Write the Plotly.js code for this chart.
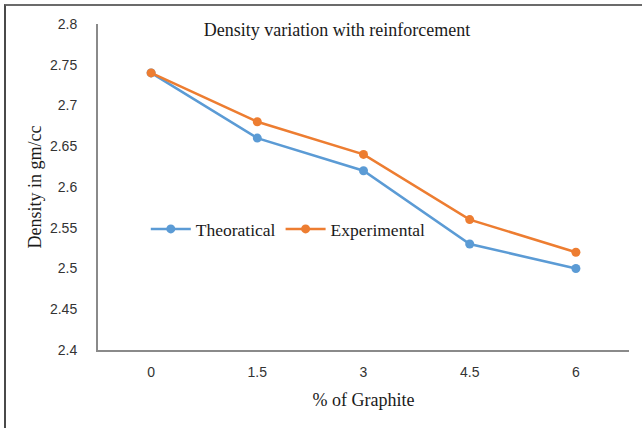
<!DOCTYPE html>
<html><head><meta charset="utf-8">
<script src="https://cdn.plot.ly/plotly-3.0.1.min.js"></script>
<style>
html,body{margin:0;padding:0;background:#fff;}
#wrap{position:relative;width:642px;height:428px;}
#chart{width:642px;height:428px;}
#frame{position:absolute;left:4px;top:4px;width:700px;height:500px;border-top:2px solid #6b6b6b;border-left:2px solid #4a4a4a;pointer-events:none;}
</style></head>
<body>
<div id="wrap"><div id="chart"></div><div id="frame"></div></div>
<script>
const categories = ["0", "1.5", "3", "4.5", "6"];
const theoretical = [2.74, 2.66, 2.62, 2.53, 2.50];
const experimental = [2.74, 2.68, 2.64, 2.56, 2.52];
const yTicks = [2.4, 2.45, 2.5, 2.55, 2.6, 2.65, 2.7, 2.75, 2.8];
const yTickLabels = ["2.4", "2.45", "2.5", "2.55", "2.6", "2.65", "2.7", "2.75", "2.8"];

const serif = "Liberation Serif, Times New Roman, serif";
const sans = "Liberation Sans, Arial, sans-serif";

const traces = [
  {x: categories, y: theoretical, name: "Theoratical", type: "scatter", mode: "lines+markers",
   line: {color: "#5B9BD5", width: 2.5}, marker: {color: "#5B9BD5", size: 9}},
  {x: categories, y: experimental, name: "Experimental", type: "scatter", mode: "lines+markers",
   line: {color: "#ED7D31", width: 2.5}, marker: {color: "#ED7D31", size: 9}}
];

const layout = {
  width: 642, height: 428,
  margin: {l: 98, r: 13, t: 24, b: 78},
  paper_bgcolor: "#fff", plot_bgcolor: "#fff",
  showlegend: true,
  title: {text: "Density variation with reinforcement", x: 0.525, xanchor: "center", y: 0.93, yanchor: "middle",
    font: {family: serif, size: 18, color: "#1a1a1a"}},
  xaxis: {type: "category", range: [-0.5, 4.5], showgrid: false, zeroline: false,
    showline: true, linecolor: "#8a8a8a", linewidth: 2, ticks: "", ticklabelstandoff: 8,
    tickfont: {family: sans, size: 14, color: "#333333"},
    title: {text: "% of Graphite", standoff: 15, font: {family: serif, size: 18, color: "#1a1a1a"}}},
  yaxis: {range: [2.4, 2.8], tickvals: yTicks, ticktext: yTickLabels, showgrid: false, zeroline: false,
    showline: true, linecolor: "#8a8a8a", linewidth: 2, ticks: "", ticklabelstandoff: 16,
    tickfont: {family: sans, size: 14, color: "#333333"},
    title: {text: "Density in gm/cc", standoff: 4, font: {family: serif, size: 18, color: "#1a1a1a"}}},
  legend: {orientation: "h", x: 0.09, xanchor: "left", y: 0.371, yanchor: "middle",
    bgcolor: "rgba(0,0,0,0)", itemwidth: 40, tracegroupgap: 0,
    font: {family: serif, size: 17.5, color: "#1a1a1a"}}
};

Plotly.newPlot("chart", traces, layout, {displayModeBar: false, staticPlot: true});
</script>
</body></html>
